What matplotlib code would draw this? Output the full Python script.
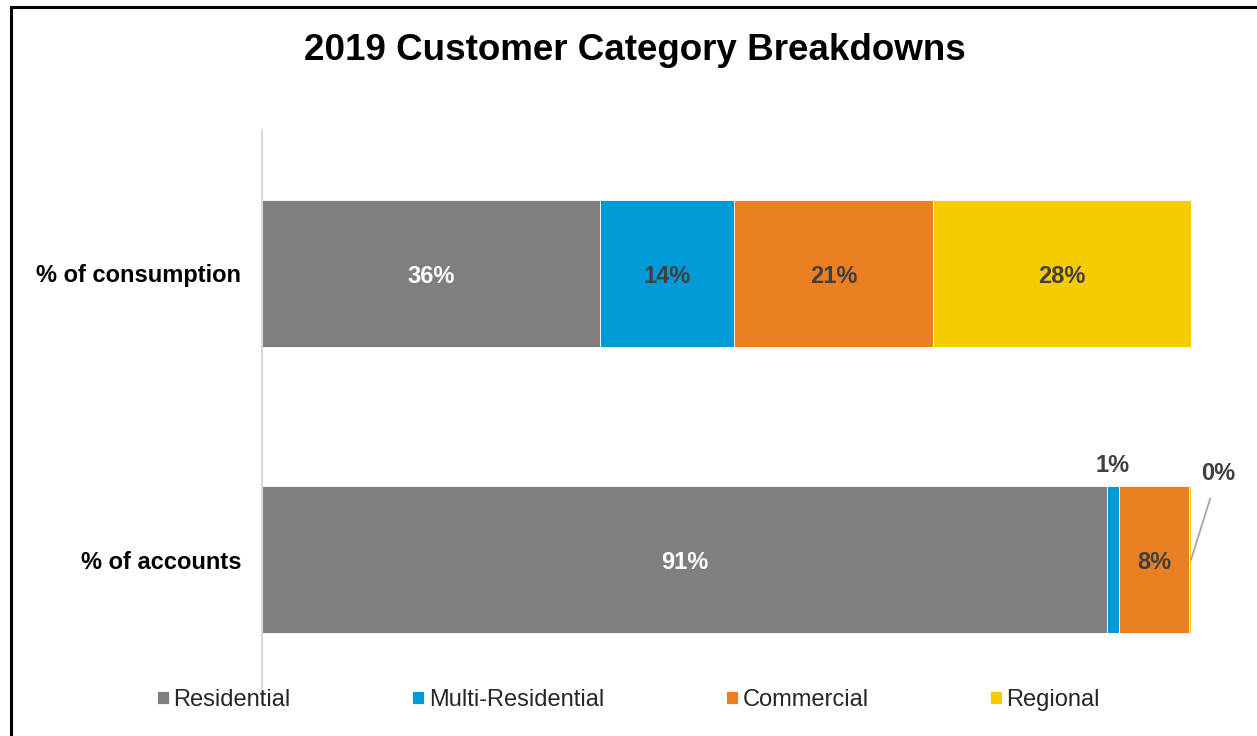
import matplotlib.pyplot as plt
from matplotlib.patches import Rectangle

plt.rcParams['font.family'] = ['Liberation Sans', 'DejaVu Sans']

# 2019 customer category breakdown, in percent
rows = ["% of consumption", "% of accounts"]
categories = ["Residential", "Multi-Residential", "Commercial", "Regional"]
consumption = [36.4, 14.4, 21.4, 27.8]
accounts = [91.0, 1.2, 7.6, 0.2]
colors = ["#7f7f7f", "#009ad8", "#ea7f24", "#f5cc00"]
label_colors = ["white", "#404040", "#404040", "#404040"]

fig = plt.figure(figsize=(12.57, 7.36), dpi=100)
ax = fig.add_axes([262 / 1257, 1 - 703 / 736, 929 / 1257, 573 / 736])

series = list(zip(consumption, accounts))  # per category: (consumption, accounts)
ypos = [0, 1]
left = [0.0, 0.0]
for i, cat in enumerate(categories):
    vals = series[i]
    bars = ax.barh(ypos, vals, left=left, height=0.513, color=colors[i],
                   edgecolor="white", linewidth=0.6, label=cat)
    for j, (b, v) in enumerate(zip(bars, vals)):
        cx = left[j] + v / 2
        txt = f"{v:.0f}%"
        if v >= 5:
            ax.text(cx, ypos[j] + 0.01, txt, ha="center", va="center",
                    fontsize=17, fontweight="bold", color=label_colors[i])
        elif i == 1:
            # thin slice: label sits just above the bar
            ax.text(cx, ypos[j] - 0.33, txt, ha="center", va="center",
                    fontsize=17, fontweight="bold", color="#404040")
        else:
            # tiny slice: label off to the right with a leader line
            ax.annotate(txt, xy=(left[j] + v, ypos[j]),
                        xytext=(left[j] + v + 2.9, ypos[j] - 0.3),
                        ha="center", va="center", fontsize=17,
                        fontweight="bold", color="#404040",
                        arrowprops=dict(arrowstyle="-", color="#a6a6a6",
                                        lw=1.3, shrinkA=8, shrinkB=0))
    left = [l + v for l, v in zip(left, vals)]

ax.set_xlim(0, 100)
ax.set_ylim(1.5, -0.5)
ax.set_yticks(ypos)
ax.set_yticklabels(rows, fontsize=17, fontweight="bold", color="black")
ax.tick_params(axis="y", length=0, pad=15)
ax.set_xticks([])
for s in ["top", "right", "bottom"]:
    ax.spines[s].set_visible(False)
ax.spines["left"].set_color("#d9d9d9")
ax.spines["left"].set_linewidth(1.5)

leg = fig.legend(loc="center", bbox_to_anchor=(0.5, 1 - 700 / 736), ncol=4,
                 frameon=False, fontsize=17, handlelength=0.5,
                 handleheight=0.5, handletextpad=0.2, columnspacing=5.15)
for t in leg.get_texts():
    t.set_color("#262626")

fig.text(0.505, 1 - 50 / 736, "2019 Customer Category Breakdowns",
         ha="center", va="center", fontsize=26.5, fontweight="bold")

# outer chart frame
fig.patches.append(Rectangle((10.5 / 1257, -0.05), 1.2, 1 - 7 / 736 + 0.05,
                             transform=fig.transFigure, fill=False,
                             edgecolor="black", linewidth=2.2))

fig.savefig("out.png", dpi=100)
